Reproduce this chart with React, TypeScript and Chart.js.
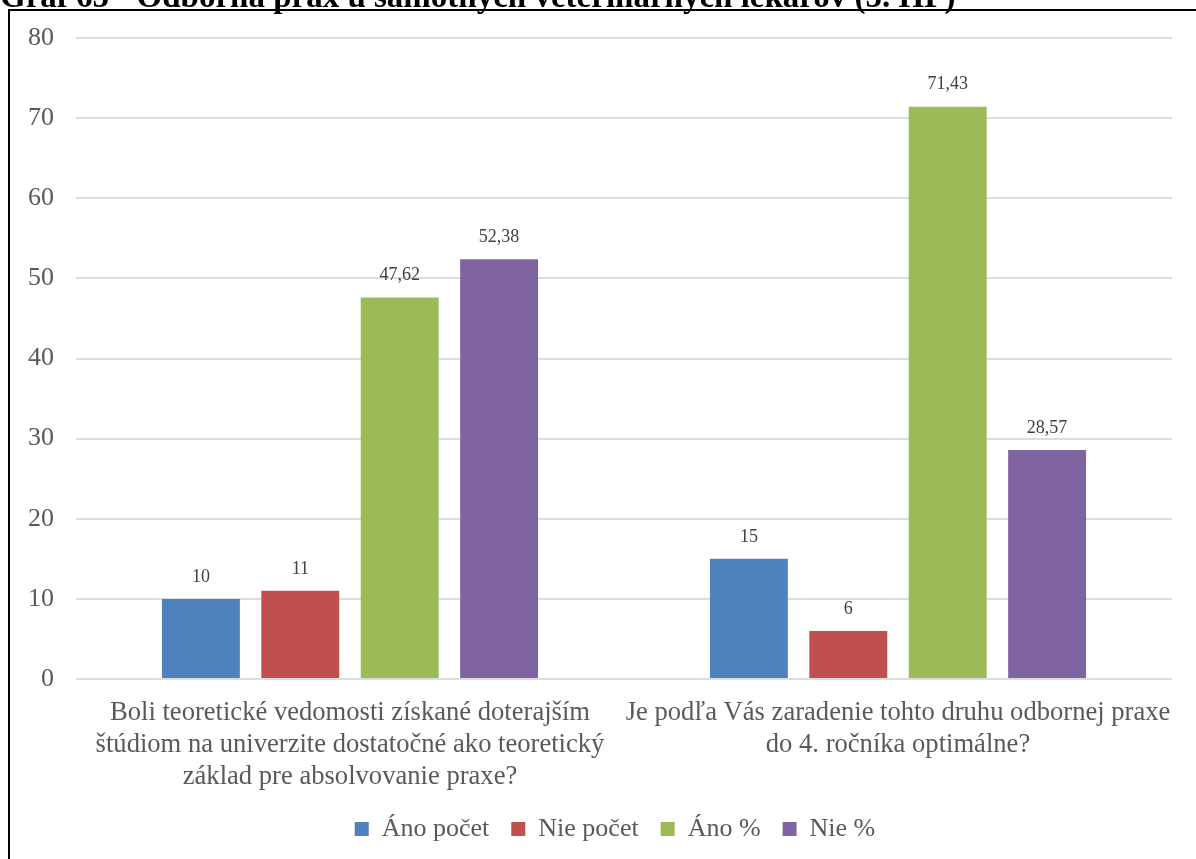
import React, { useEffect, useRef } from "react";
import { Chart, registerables } from "chart.js";

Chart.register(...registerables);

const TITLE = "Graf 65 - Odborná prax u samotných veterinárnych lekárov (5. HP)";

const categories: string[][] = [
  [
    "Boli teoretické vedomosti získané doterajším",
    "štúdiom na univerzite dostatočné ako teoretický",
    "základ pre absolvovanie praxe?",
  ],
  ["Je podľa Vás zaradenie tohto druhu odbornej praxe", "do 4. ročníka optimálne?"],
];

const seriesNames = ["Áno počet", "Nie počet", "Áno %", "Nie %"];
const anoPocet = [10, 15];
const niePocet = [11, 6];
const anoPct = [47.62, 71.43];
const niePct = [52.38, 28.57];
const seriesColors = ["#4F81BD", "#C0504D", "#9BBB59", "#8064A2"];

const yTicks = [0, 10, 20, 30, 40, 50, 60, 70, 80];

const FONT = "'Liberation Serif', 'Times New Roman', serif";

const fmt = (v: number) => String(v).replace(".", ",");

const decorPlugin = {
  id: "decor",
  afterLayout(chart: any) {
    if (chart.legend) {
      chart.legend.left += 29;
      chart.legend.right += 29;
    }
  },
  afterDraw(chart: any) {
    const ctx = chart.ctx as CanvasRenderingContext2D;
    ctx.save();
    // data labels
    ctx.font = `18px ${FONT}`;
    ctx.fillStyle = "#404040";
    ctx.textAlign = "center";
    ctx.textBaseline = "middle";
    chart.data.datasets.forEach((ds: any, di: number) => {
      const meta = chart.getDatasetMeta(di);
      meta.data.forEach((el: any, i: number) => {
        ctx.fillText(fmt(ds.data[i]), el.x, el.y - 22);
      });
    });
    // title (cut off at top)
    ctx.font = `bold 33px ${FONT}`;
    ctx.fillStyle = "#000";
    ctx.textAlign = "left";
    ctx.textBaseline = "alphabetic";
    ctx.fillText(TITLE, 0, 7);
    // frame
    ctx.fillStyle = "#000";
    ctx.fillRect(8, 9, 1196 - 8, 2);
    ctx.fillRect(8, 9, 2, 859 - 9);
    ctx.restore();
  },
};

export default function App() {
  const ref = useRef<HTMLCanvasElement | null>(null);
  useEffect(() => {
    if (!ref.current) return;
    const chart = new Chart(ref.current, {
      type: "bar",
      data: {
        labels: categories,
        datasets: [anoPocet, niePocet, anoPct, niePct].map((d, i) => ({
          label: seriesNames[i],
          data: d,
          backgroundColor: seriesColors[i],
          borderWidth: 0,
          categoryPercentage: 0.7256,
          barPercentage: 0.784,
        })),
      },
      options: {
        animation: false,
        responsive: true,
        maintainAspectRatio: false,
        layout: { padding: { top: 38, right: 24, bottom: 7, left: 0 } },
        plugins: {
          legend: {
            position: "bottom",
            labels: {
              boxWidth: 14,
              boxHeight: 14,
              padding: 22,
              color: "#595959",
              font: { family: FONT, size: 26 },
            },
          },
          tooltip: { enabled: false },
          title: { display: false },
        },
        scales: {
          x: {
            grid: { display: false },
            border: { display: false },
            ticks: {
              color: "#595959",
              padding: 10,
              maxRotation: 0,
              autoSkip: false,
              font: { family: FONT, size: 26.6, lineHeight: 1.2 },
            },
            afterFit: (s: any) => {
              s.height = 115;
            },
          },
          y: {
            min: 0,
            max: 80,
            afterBuildTicks: (s: any) => {
              s.ticks = yTicks.map((v) => ({ value: v }));
            },
            afterFit: (s: any) => {
              s.width = 76;
            },
            grid: { color: "#DDDDDD", lineWidth: 2, drawTicks: false },
            border: { display: false },
            ticks: {
              color: "#595959",
              padding: 22,
              font: { family: FONT, size: 26 },
            },
          },
        },
      },
      plugins: [decorPlugin],
    });
    return () => chart.destroy();
  }, []);
  return (
    <div style={{ position: "absolute", left: 0, top: 0, width: 1196, height: 859, background: "#fff" }}>
      <canvas ref={ref} />
    </div>
  );
}
